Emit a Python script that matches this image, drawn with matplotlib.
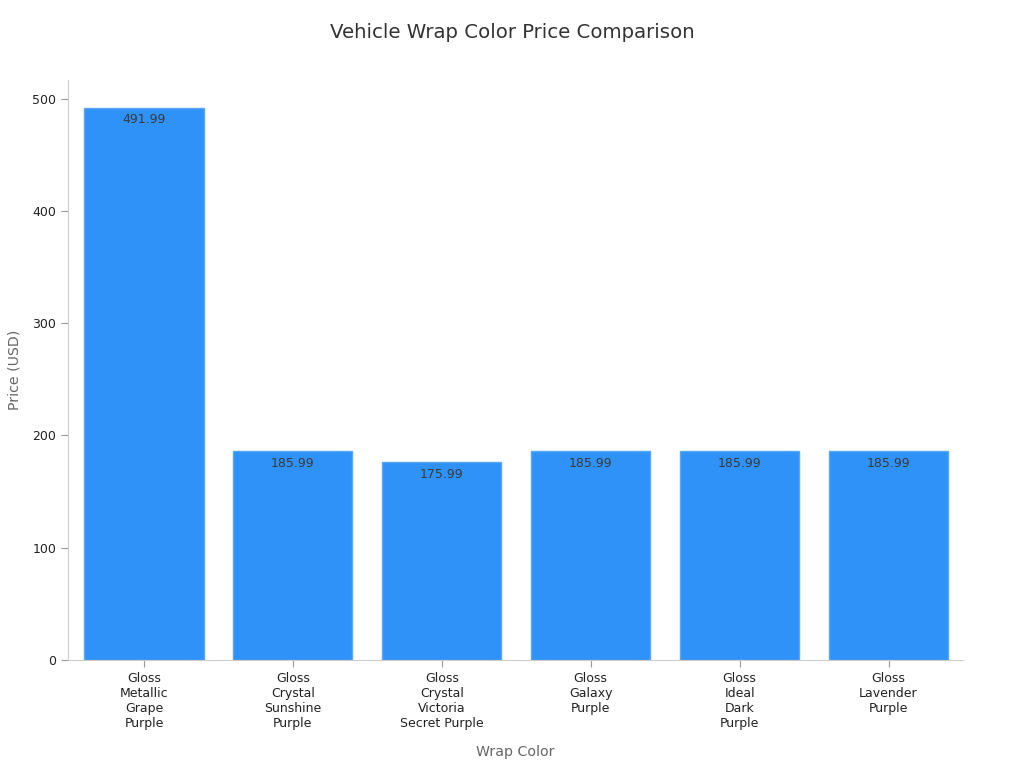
import matplotlib
matplotlib.use("Agg")
import matplotlib.pyplot as plt

categories = ["Gloss\nMetallic\nGrape\nPurple", "Gloss\nCrystal\nSunshine\nPurple",
              "Gloss\nCrystal\nVictoria\nSecret Purple", "Gloss\nGalaxy\nPurple",
              "Gloss\nIdeal\nDark\nPurple", "Gloss\nLavender\nPurple"]
prices = [491.99, 185.99, 175.99, 185.99, 185.99, 185.99]
value_labels = ["491.99", "185.99", "175.99", "185.99", "185.99", "185.99"]

plt.rcParams['font.family'] = ['DejaVu Sans']
fig = plt.figure(figsize=(10.24, 7.68), dpi=100)
ax = fig.add_axes([0.0664, 0.1406, 0.8740, 0.7554])

x = list(range(len(categories)))
bars = ax.bar(x, prices, width=0.8, color="#2E92F8", edgecolor="#5AA8F5", linewidth=1)
for b, lab in zip(bars, value_labels):
    ax.annotate(lab, (b.get_x() + b.get_width() / 2, b.get_height()),
                xytext=(0, -4), textcoords="offset points", ha="center", va="top",
                fontsize=9, color="#3a3a3a")

ax.set_xlim(-0.51, 5.5)
ax.set_ylim(0, 516.6)
ax.set_xticks(x)
ax.set_xticklabels(categories, fontsize=9, color="#222222")
ax.set_yticks([0, 100, 200, 300, 400, 500])
ax.tick_params(axis='y', labelsize=9, colors="#222222")
ax.tick_params(axis='both', color="#999999", length=5)
for s in ["top", "right"]:
    ax.spines[s].set_visible(False)
for s in ["left", "bottom"]:
    ax.spines[s].set_color("#cccccc")
ax.set_xlabel("Wrap Color", fontsize=10.2, color="#666666", labelpad=11)
ax.set_ylabel("Price (USD)", fontsize=10.2, color="#666666", labelpad=8)
fig.suptitle("Vehicle Wrap Color Price Comparison", fontsize=14.2, color="#333333", y=0.97)

fig.savefig("out.png", dpi=100)
